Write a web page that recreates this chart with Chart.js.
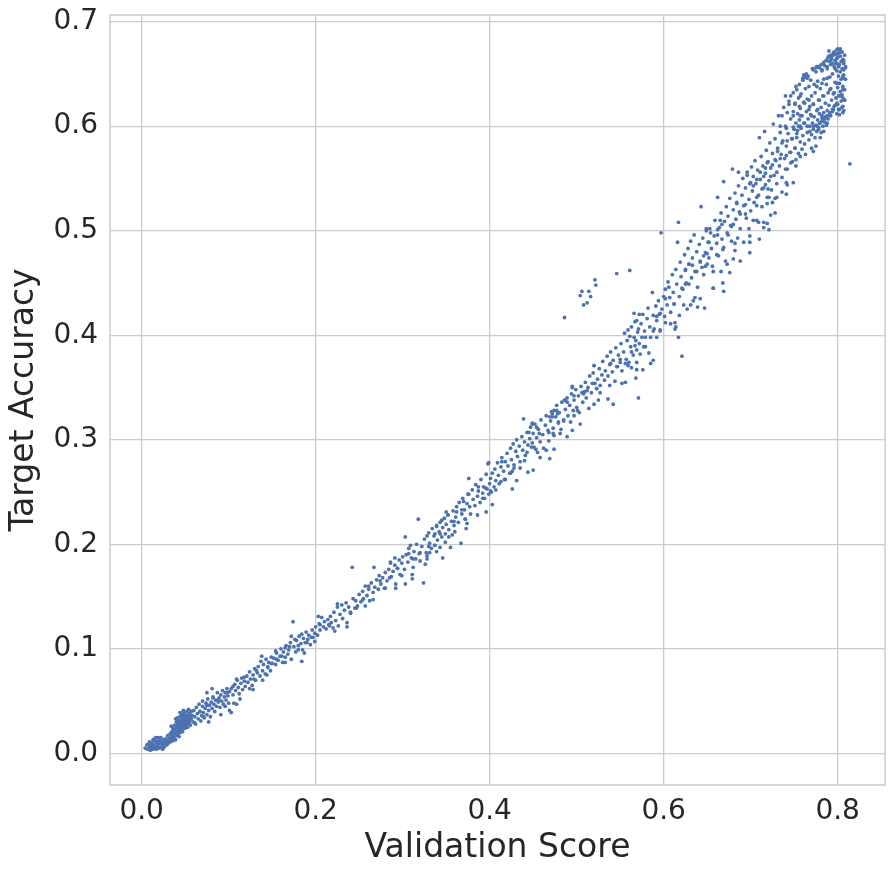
<!DOCTYPE html>
<html>
<head>
<meta charset="utf-8">
<script src="https://cdn.jsdelivr.net/npm/chart.js@4.4.1/dist/chart.umd.min.js"></script>
<style>
html,body{margin:0;padding:0;background:#fff;}
#wrap{width:895px;height:876px;}
</style>
</head>
<body>
<div id="wrap"><canvas id="c" width="895" height="876"></canvas></div>
<script>
// ---- Data: [validation score, target accuracy] pairs ----
const xTickValues = [0.0, 0.2, 0.4, 0.6, 0.8];
const yTickValues = [0.0, 0.1, 0.2, 0.3, 0.4, 0.5, 0.6, 0.7];
const xTitle = 'Validation Score';
const yTitle = 'Target Accuracy';

const segStart = [
[0.004,0.005],[0.006,0.008],[0.007,0.004],[0.008,0.009],[0.009,0.006],[0.010,0.003],[0.011,0.007],[0.012,0.010],[0.012,0.005],[0.013,0.004],
[0.014,0.008],[0.015,0.012],[0.015,0.006],[0.016,0.015],[0.017,0.010],[0.017,0.004],[0.018,0.007],[0.019,0.015],[0.020,0.009],[0.020,0.005],
[0.021,0.012],[0.022,0.006],[0.022,0.015],[0.023,0.010],[0.024,0.008],[0.025,0.013],[0.026,0.006],[0.026,0.011],[0.027,0.009],[0.028,0.014],
[0.029,0.008],[0.030,0.012],[0.030,0.017],[0.031,0.010],[0.032,0.014],[0.033,0.019],[0.033,0.011],[0.034,0.016],[0.035,0.013],[0.035,0.021],
[0.013,0.013],[0.009,0.011],[0.018,0.012],[0.024,0.004],[0.028,0.011]
];
const segCluster = [
[0.036,0.018],[0.036,0.024],[0.037,0.015],[0.037,0.021],[0.038,0.027],[0.038,0.019],[0.039,0.013],[0.039,0.023],[0.040,0.030],[0.040,0.017],
[0.040,0.025],[0.041,0.021],[0.041,0.028],[0.041,0.034],[0.042,0.019],[0.042,0.024],[0.042,0.031],[0.043,0.016],[0.043,0.027],[0.043,0.022],
[0.044,0.029],[0.044,0.035],[0.044,0.025],[0.045,0.020],[0.045,0.032],[0.045,0.027],[0.046,0.023],[0.046,0.030],[0.046,0.037],[0.047,0.026],
[0.047,0.033],[0.047,0.021],[0.048,0.029],[0.048,0.035],[0.048,0.025],[0.049,0.031],[0.049,0.027],[0.049,0.038],[0.050,0.024],[0.050,0.033],
[0.050,0.029],[0.051,0.036],[0.051,0.030],[0.051,0.026],[0.052,0.034],[0.052,0.028],[0.052,0.040],[0.053,0.031],[0.053,0.036],[0.054,0.029],
[0.054,0.033],[0.055,0.038],[0.055,0.031],[0.056,0.035],[0.056,0.027],[0.057,0.033],[0.057,0.040],[0.058,0.036],[0.039,0.033],[0.044,0.039],
[0.048,0.041],[0.034,0.026],[0.036,0.012],[0.053,0.025]
];
const segLow = [
[0.059,0.030],[0.060,0.041],[0.061,0.035],[0.062,0.028],[0.063,0.044],[0.064,0.038],[0.065,0.033],[0.066,0.047],[0.067,0.040],[0.068,0.031],
[0.069,0.036],[0.070,0.045],[0.070,0.050],[0.071,0.039],[0.072,0.034],[0.073,0.043],[0.074,0.048],[0.075,0.037],[0.076,0.052],[0.077,0.041],
[0.078,0.046],[0.079,0.035],[0.080,0.049],[0.081,0.043],[0.082,0.054],[0.083,0.047],[0.084,0.040],[0.085,0.051],[0.086,0.045],[0.087,0.058],
[0.088,0.049],[0.089,0.053],[0.090,0.044],[0.091,0.056],[0.092,0.050],[0.093,0.060],[0.094,0.047],[0.095,0.054],[0.096,0.058],[0.097,0.051],
[0.098,0.062],[0.099,0.055],[0.100,0.048],[0.101,0.059],[0.075,0.058],[0.101,0.041],[0.106,0.048],[0.081,0.062],[0.103,0.039],[0.109,0.047],
[0.103,0.062],[0.105,0.056],[0.107,0.066],[0.108,0.060],[0.110,0.070],[0.111,0.063],[0.112,0.057],[0.114,0.067],[0.115,0.072],[0.116,0.061],
[0.118,0.069],[0.119,0.064],[0.121,0.074],[0.122,0.068],[0.124,0.078],[0.125,0.071],[0.127,0.065],[0.128,0.075],[0.130,0.081],[0.131,0.070],
[0.133,0.077],[0.134,0.083],[0.136,0.074],[0.137,0.088],[0.139,0.079],[0.140,0.085],[0.142,0.076],[0.143,0.090],[0.145,0.082],[0.146,0.087],
[0.148,0.079],[0.149,0.092],[0.150,0.086],[0.113,0.052],[0.138,0.093]
];
const segLowExtra = [
[0.048,0.040],[0.054,0.042],[0.061,0.029],[0.067,0.040],[0.071,0.035],[0.077,0.030],[0.075,0.046],[0.082,0.053],[0.088,0.051],[0.091,0.037],
[0.096,0.045],[0.098,0.058],[0.105,0.064],[0.109,0.071],[0.118,0.073],[0.124,0.062],[0.128,0.061],[0.129,0.071],[0.132,0.079],[0.139,0.070],
[0.144,0.075],[0.145,0.083],[0.149,0.086],[0.155,0.090],[0.154,0.098],[0.161,0.093],[0.165,0.087],[0.165,0.101],[0.170,0.102],[0.172,0.112],
[0.176,0.109],[0.180,0.099],[0.184,0.088],[0.187,0.096],[0.190,0.106],[0.195,0.111],[0.199,0.107],[0.203,0.131],[0.205,0.123],[0.216,0.122],
[0.222,0.117],[0.225,0.143],[0.236,0.125],[0.240,0.135],[0.247,0.139],[0.254,0.147],[0.257,0.141],[0.261,0.160],[0.266,0.147],[0.274,0.165],
[0.280,0.158],[0.285,0.168],[0.292,0.158]
];
const segLowMid = [
[0.152,0.091],[0.154,0.085],[0.155,0.096],[0.157,0.089],[0.159,0.093],[0.160,0.100],[0.162,0.087],[0.163,0.097],[0.165,0.092],[0.166,0.103],
[0.168,0.095],[0.169,0.099],[0.171,0.106],[0.172,0.090],[0.174,0.126],[0.175,0.102],[0.177,0.097],[0.178,0.108],[0.180,0.103],[0.181,0.112],
[0.183,0.105],[0.185,0.099],[0.186,0.110],[0.188,0.106],[0.189,0.116],[0.191,0.109],[0.192,0.113],[0.194,0.104],[0.196,0.118],[0.197,0.111],
[0.199,0.115],[0.200,0.121],[0.184,0.114],
[0.202,0.113],[0.204,0.124],[0.205,0.118],[0.207,0.130],[0.209,0.121],[0.210,0.126],[0.212,0.119],[0.214,0.128],[0.215,0.123],[0.217,0.131],
[0.218,0.125],[0.220,0.120],[0.221,0.135],[0.223,0.127],[0.225,0.140],[0.226,0.122],[0.228,0.133],[0.230,0.142],[0.231,0.129],[0.233,0.137],
[0.235,0.144],[0.236,0.121],[0.238,0.140],[0.240,0.134],[0.242,0.178],[0.243,0.148],[0.245,0.139],[0.246,0.146],[0.248,0.141],[0.250,0.152],
[0.252,0.145],[0.254,0.155],[0.255,0.148],[0.257,0.160],[0.259,0.151],[0.261,0.157],[0.262,0.146],[0.264,0.163],[0.266,0.154],[0.267,0.178],
[0.268,0.159],[0.270,0.166],[0.272,0.157],[0.273,0.170],[0.275,0.162],[0.277,0.168],[0.279,0.158],[0.280,0.173],[0.282,0.165],[0.284,0.176],
[0.286,0.183],[0.287,0.169],[0.289,0.174],[0.291,0.180],[0.292,0.162],[0.294,0.177],[0.296,0.185],[0.297,0.171],[0.299,0.182],[0.300,0.188]
];
const segMid = [
[0.302,0.176],[0.303,0.207],[0.304,0.190],[0.306,0.183],[0.307,0.196],[0.309,0.199],[0.310,0.187],[0.312,0.178],[0.313,0.193],[0.315,0.186],
[0.316,0.200],[0.318,0.224],[0.319,0.191],[0.320,0.184],[0.322,0.198],[0.324,0.163],[0.325,0.205],[0.327,0.192],[0.328,0.189],[0.330,0.211],
[0.331,0.201],[0.333,0.196],[0.334,0.215],[0.336,0.208],[0.337,0.199],[0.339,0.218],[0.340,0.204],[0.342,0.212],[0.343,0.221],[0.345,0.207],
[0.346,0.216],[0.348,0.225],[0.349,0.210],[0.350,0.219],[0.311,0.171],[0.326,0.181],
[0.352,0.228],[0.353,0.214],[0.355,0.197],[0.356,0.222],[0.358,0.232],[0.359,0.218],[0.361,0.226],[0.362,0.236],[0.364,0.221],[0.365,0.240],
[0.367,0.201],[0.368,0.229],[0.369,0.244],[0.371,0.233],[0.372,0.224],[0.374,0.239],[0.375,0.248],[0.377,0.236],[0.378,0.229],[0.380,0.252],
[0.381,0.243],[0.383,0.237],[0.384,0.257],[0.386,0.246],[0.387,0.251],[0.389,0.240],[0.390,0.262],[0.392,0.249],[0.393,0.255],[0.394,0.244],
[0.396,0.267],[0.397,0.253],[0.398,0.277],[0.399,0.248],[0.400,0.258],[0.357,0.209],[0.373,0.215],
[0.401,0.263],[0.402,0.250],[0.403,0.268],[0.405,0.255],[0.406,0.272],[0.407,0.261],[0.409,0.278],[0.410,0.266],[0.411,0.258],[0.413,0.274],
[0.414,0.283],[0.416,0.270],[0.417,0.262],[0.418,0.279],[0.420,0.287],[0.421,0.275],[0.423,0.268],[0.424,0.292],[0.425,0.281],[0.427,0.296],
[0.428,0.276],[0.430,0.289],[0.431,0.300],[0.432,0.284],[0.434,0.294],[0.435,0.279],[0.437,0.303],[0.438,0.290],[0.440,0.298],[0.441,0.285],
[0.443,0.307],[0.444,0.295],[0.446,0.301],[0.447,0.312],[0.449,0.297],[0.450,0.306],[0.439,0.320],[0.426,0.270],
[0.451,0.293],[0.452,0.315],[0.454,0.302],[0.455,0.288],[0.456,0.310],[0.458,0.298],[0.459,0.319],[0.461,0.305],[0.462,0.292],[0.464,0.314],
[0.465,0.323],[0.467,0.309],[0.468,0.299],[0.470,0.318],[0.471,0.327],[0.473,0.311],[0.474,0.304],[0.476,0.322],[0.477,0.333],[0.479,0.316],
[0.480,0.326],[0.482,0.310],[0.483,0.336],[0.485,0.319],[0.486,0.417],[0.487,0.329],[0.489,0.340],[0.490,0.323],[0.492,0.333],[0.493,0.317],
[0.494,0.344],[0.496,0.328],[0.497,0.338],[0.499,0.348],[0.500,0.331]
];
const segMidExtra = [
[0.286,0.182],[0.291,0.187],[0.294,0.177],[0.299,0.170],[0.303,0.162],[0.311,0.167],[0.307,0.191],[0.312,0.186],[0.320,0.192],[0.328,0.186],
[0.331,0.192],[0.328,0.208],[0.337,0.210],[0.343,0.210],[0.339,0.217],[0.345,0.223],[0.350,0.231],[0.352,0.228],[0.359,0.222],[0.362,0.231],
[0.368,0.233],[0.370,0.241],[0.376,0.248],[0.376,0.263],[0.372,0.224],[0.374,0.220],[0.360,0.212],[0.353,0.207],[0.349,0.202],[0.343,0.197],
[0.337,0.199],[0.330,0.198],[0.346,0.187],[0.339,0.193],[0.387,0.255],[0.392,0.244],[0.395,0.254],[0.401,0.251],[0.403,0.238],[0.386,0.228],
[0.396,0.231],[0.407,0.252],[0.413,0.260],[0.414,0.279],[0.399,0.278],[0.418,0.262],[0.424,0.268],[0.428,0.273],[0.431,0.261],[0.426,0.253],
[0.435,0.273],[0.440,0.280],[0.444,0.269],[0.450,0.271],[0.443,0.288],[0.448,0.293],[0.453,0.291],[0.458,0.283],[0.465,0.290],[0.469,0.282],
[0.474,0.291],[0.449,0.315],[0.454,0.312],[0.445,0.307],[0.457,0.306],[0.468,0.307],[0.473,0.306],[0.481,0.306],[0.472,0.322],[0.479,0.317],
[0.485,0.318],[0.489,0.303],[0.495,0.309],[0.504,0.315],[0.497,0.323],[0.501,0.328],[0.508,0.344],[0.514,0.330],[0.520,0.334],[0.525,0.338],
[0.489,0.336],[0.495,0.350],[0.497,0.342],[0.487,0.338],[0.474,0.328],[0.478,0.325],[0.469,0.322],[0.449,0.316],[0.472,0.325],[0.477,0.328],
[0.495,0.351],[0.486,0.338],[0.506,0.345],[0.512,0.347],[0.521,0.354],[0.523,0.349],[0.527,0.345],[0.538,0.352],[0.542,0.334],[0.536,0.339]
];
const segUpperMid = [
[0.502,0.342],[0.503,0.326],[0.504,0.438],[0.505,0.351],[0.506,0.442],[0.507,0.336],[0.508,0.429],[0.509,0.346],[0.510,0.355],[0.511,0.340],
[0.512,0.431],[0.513,0.350],[0.514,0.442],[0.515,0.361],[0.516,0.437],[0.517,0.345],[0.518,0.354],[0.519,0.364],[0.520,0.371],[0.521,0.453],
[0.522,0.448],[0.523,0.349],[0.524,0.358],[0.526,0.368],[0.527,0.352],[0.529,0.362],[0.530,0.375],[0.532,0.357],[0.533,0.366],[0.535,0.380],
[0.536,0.361],[0.538,0.372],[0.539,0.384],[0.541,0.365],[0.542,0.376],[0.544,0.356],[0.545,0.388],[0.546,0.459],[0.547,0.370],[0.548,0.381],
[0.550,0.374],
[0.551,0.392],[0.552,0.366],[0.554,0.384],[0.555,0.402],[0.557,0.377],[0.558,0.395],[0.559,0.371],[0.561,0.462],[0.562,0.389],[0.563,0.408],
[0.565,0.381],[0.566,0.398],[0.567,0.413],[0.569,0.386],[0.570,0.403],[0.571,0.340],[0.572,0.392],[0.574,0.411],[0.575,0.398],[0.576,0.420],
[0.578,0.404],[0.579,0.389],[0.581,0.416],[0.582,0.426],[0.584,0.408],[0.585,0.398],[0.587,0.441],[0.588,0.419],[0.589,0.406],[0.591,0.428],
[0.592,0.414],[0.594,0.433],[0.595,0.420],[0.596,0.404],[0.597,0.498],[0.598,0.425],[0.600,0.437],[0.569,0.374],[0.583,0.383],
[0.601,0.418],[0.602,0.444],[0.604,0.429],[0.605,0.451],[0.607,0.436],[0.608,0.422],[0.610,0.458],[0.611,0.441],[0.612,0.430],[0.614,0.463],
[0.615,0.449],[0.616,0.489],[0.617,0.508],[0.618,0.437],[0.619,0.470],[0.620,0.456],[0.621,0.380],[0.622,0.444],[0.624,0.477],[0.625,0.462],
[0.626,0.450],[0.628,0.483],[0.629,0.468],[0.631,0.490],[0.632,0.455],[0.633,0.474],[0.635,0.496],[0.636,0.461],[0.638,0.480],[0.639,0.446],
[0.641,0.487],[0.642,0.471],[0.643,0.523],[0.645,0.493],[0.646,0.458],[0.648,0.479],[0.649,0.500],[0.650,0.468],[0.613,0.412],[0.634,0.433]
];
const segUpperExtra = [
[0.520,0.371],[0.539,0.373],[0.546,0.370],[0.556,0.373],[0.550,0.377],[0.560,0.374],[0.563,0.369],[0.569,0.367],[0.576,0.367],[0.585,0.373],
[0.588,0.376],[0.556,0.355],[0.552,0.354],[0.568,0.359],[0.577,0.389],[0.567,0.390],[0.563,0.384],[0.573,0.382],[0.572,0.420],[0.569,0.414],
[0.566,0.421],[0.571,0.406],[0.559,0.405],[0.561,0.399],[0.568,0.395],[0.579,0.398],[0.588,0.404],[0.592,0.398],[0.596,0.405],[0.592,0.418],
[0.596,0.421],[0.602,0.412],[0.602,0.435],[0.608,0.411],[0.613,0.406],[0.617,0.398],[0.614,0.408],[0.618,0.419],[0.625,0.449],[0.629,0.449],
[0.621,0.445],[0.606,0.446],[0.612,0.430],[0.623,0.429],[0.627,0.425],[0.636,0.436],[0.642,0.435],[0.647,0.426],[0.639,0.427],[0.631,0.429],
[0.625,0.463],[0.629,0.468],[0.633,0.467],[0.638,0.461],[0.642,0.470],[0.644,0.465],[0.648,0.466],[0.657,0.461],[0.666,0.461],[0.676,0.460],
[0.657,0.445],[0.668,0.450],[0.669,0.442],[0.673,0.468],[0.680,0.473],[0.688,0.471],[0.682,0.481],[0.669,0.484],[0.661,0.477],[0.650,0.478],
[0.646,0.476],[0.652,0.489],[0.662,0.496],[0.674,0.496],[0.682,0.488],[0.692,0.489],[0.699,0.489],[0.699,0.495],[0.699,0.479],[0.710,0.492],
[0.698,0.502],[0.680,0.506],[0.678,0.504],[0.688,0.516],[0.694,0.516],[0.703,0.510],[0.709,0.508],[0.715,0.503],[0.721,0.501],[0.719,0.507],
[0.723,0.515],[0.728,0.517],[0.719,0.526],[0.725,0.527],[0.707,0.524],[0.694,0.525],[0.684,0.526],[0.665,0.510],[0.667,0.506],[0.654,0.498],
[0.649,0.502],[0.662,0.501]
];
const segHighMid = [
[0.651,0.489],[0.652,0.474],[0.653,0.502],[0.655,0.483],[0.656,0.466],[0.658,0.495],[0.659,0.510],[0.661,0.488],[0.662,0.532],[0.663,0.476],
[0.664,0.503],[0.666,0.517],[0.667,0.492],[0.668,0.482],[0.669,0.547],[0.670,0.509],[0.672,0.523],[0.673,0.498],[0.674,0.514],[0.676,0.531],
[0.677,0.505],[0.678,0.490],[0.679,0.559],[0.680,0.520],[0.682,0.536],[0.683,0.511],[0.684,0.527],[0.686,0.543],[0.687,0.518],[0.688,0.502],
[0.690,0.534],[0.691,0.550],[0.692,0.524],[0.694,0.541],[0.695,0.512],[0.696,0.556],[0.698,0.530],[0.699,0.545],[0.700,0.519],[0.657,0.445],
[0.671,0.471],[0.685,0.493],
[0.701,0.561],[0.702,0.538],[0.703,0.552],[0.704,0.527],[0.705,0.567],[0.706,0.545],[0.707,0.510],[0.708,0.558],[0.709,0.534],[0.710,0.589],
[0.711,0.549],[0.712,0.571],[0.713,0.523],[0.714,0.562],[0.715,0.541],[0.716,0.595],[0.717,0.555],[0.718,0.577],[0.719,0.532],[0.720,0.566],
[0.721,0.548],[0.722,0.584],[0.723,0.560],[0.724,0.539],[0.725,0.574],[0.726,0.602],[0.727,0.553],[0.728,0.588],[0.729,0.567],[0.730,0.545],
[0.731,0.579],[0.732,0.610],[0.733,0.562],[0.734,0.594],[0.735,0.573],[0.736,0.551],[0.737,0.586],[0.738,0.618],[0.739,0.569],[0.740,0.600],
[0.741,0.581],[0.742,0.559],[0.743,0.593],[0.744,0.624],[0.745,0.575],[0.746,0.607],[0.747,0.588],[0.748,0.566],[0.749,0.614],[0.750,0.597],
[0.728,0.531],[0.742,0.544],[0.715,0.508]
];
const segHighExtra = [
[0.686,0.556],[0.696,0.553],[0.700,0.546],[0.703,0.543],[0.707,0.549],[0.711,0.556],[0.715,0.552],[0.717,0.544],[0.720,0.540],[0.713,0.540],
[0.707,0.532],[0.721,0.532],[0.730,0.532],[0.736,0.537],[0.741,0.535],[0.719,0.565],[0.725,0.563],[0.728,0.568],[0.734,0.569],[0.741,0.572],
[0.749,0.546],[0.731,0.576],[0.736,0.584],[0.742,0.586],[0.748,0.588],[0.753,0.593],[0.755,0.600],[0.749,0.610],[0.742,0.613],[0.736,0.610],
[0.734,0.600],[0.741,0.598],[0.744,0.621],[0.746,0.629],[0.749,0.632],[0.740,0.629],[0.752,0.638],[0.757,0.629],[0.762,0.622],[0.767,0.616],
[0.770,0.610],[0.772,0.600],[0.768,0.595],[0.770,0.579],[0.772,0.576],[0.775,0.581],[0.780,0.589],[0.784,0.595],[0.788,0.603],[0.792,0.610],
[0.795,0.616],[0.799,0.622],[0.803,0.629],[0.806,0.635],[0.802,0.641],[0.806,0.648],[0.807,0.654],[0.799,0.660],[0.792,0.663],[0.788,0.657],
[0.782,0.654],[0.776,0.657],[0.788,0.646],[0.782,0.641],[0.776,0.638],[0.791,0.635],[0.796,0.632],[0.799,0.641],[0.762,0.648],[0.765,0.646],
[0.760,0.644],[0.795,0.670],[0.803,0.671],[0.799,0.665],[0.790,0.667],[0.787,0.663],[0.807,0.663],[0.809,0.657],[0.808,0.625],[0.806,0.619],
[0.801,0.616],[0.806,0.613],[0.778,0.597],[0.782,0.610],[0.777,0.616],[0.779,0.625],[0.784,0.629],[0.772,0.621],[0.767,0.625],[0.756,0.619],
[0.751,0.621],[0.757,0.610],[0.761,0.603],[0.765,0.600],[0.757,0.600],[0.749,0.599],[0.751,0.579],[0.757,0.571],[0.763,0.573],[0.746,0.575],
[0.752,0.562],[0.746,0.565],[0.740,0.559],[0.730,0.556],[0.723,0.552],[0.717,0.560],[0.741,0.546]
];
const segTop = [
[0.751,0.579],[0.751,0.622],[0.752,0.603],[0.752,0.568],[0.753,0.635],[0.753,0.589],[0.754,0.612],[0.754,0.596],[0.755,0.627],[0.755,0.574],
[0.756,0.606],[0.756,0.640],[0.757,0.585],[0.757,0.617],[0.758,0.598],[0.758,0.631],[0.759,0.578],[0.759,0.610],[0.760,0.646],[0.760,0.591],
[0.761,0.623],[0.761,0.649],[0.762,0.603],[0.762,0.583],[0.763,0.647],[0.763,0.636],[0.764,0.614],[0.764,0.650],[0.765,0.594],[0.765,0.626],
[0.766,0.648],[0.766,0.607],[0.767,0.587],[0.767,0.638],[0.768,0.619],[0.768,0.600],[0.769,0.644],[0.769,0.611],[0.770,0.592],[0.770,0.629],
[0.771,0.603],[0.771,0.655],[0.772,0.621],[0.772,0.597],[0.773,0.640],[0.773,0.609],[0.774,0.589],[0.774,0.632],[0.775,0.601],[0.775,0.652],
[0.776,0.615],[0.776,0.595],[0.777,0.643],[0.777,0.606],[0.778,0.625],[0.778,0.599],[0.779,0.656],[0.779,0.612],[0.780,0.603],[0.780,0.636],
[0.781,0.594],[0.781,0.618],[0.782,0.653],[0.782,0.608],[0.783,0.629],[0.783,0.600],[0.784,0.645],[0.784,0.613],[0.785,0.604],[0.785,0.658],
[0.786,0.622],[0.786,0.609],[0.787,0.640],[0.787,0.601],[0.788,0.655],[0.788,0.615],[0.789,0.632],[0.789,0.607],[0.790,0.662],[0.790,0.620],
[0.791,0.647],[0.791,0.611],[0.792,0.636],[0.792,0.659],[0.793,0.625],[0.793,0.665],[0.794,0.614],[0.794,0.650],[0.795,0.631],[0.795,0.668],
[0.796,0.619],[0.796,0.657],[0.797,0.642],[0.797,0.663],[0.798,0.627],[0.798,0.669],[0.799,0.612],[0.799,0.653],[0.800,0.637],[0.800,0.666],
[0.800,0.621],[0.801,0.648],[0.801,0.670],[0.801,0.629],[0.802,0.659],[0.802,0.616],[0.802,0.641],[0.803,0.667],[0.803,0.633],[0.803,0.652],
[0.804,0.624],[0.804,0.662],[0.804,0.645],[0.805,0.671],[0.805,0.618],[0.805,0.655],[0.806,0.638],[0.806,0.664],[0.806,0.627],[0.807,0.649],
[0.807,0.660],[0.808,0.635],[0.808,0.668],[0.809,0.645],[0.809,0.656],[0.799,0.673],[0.796,0.671],[0.792,0.668],[0.789,0.666],[0.787,0.663],
[0.784,0.661],[0.781,0.659],[0.778,0.657],[0.775,0.656],[0.772,0.654],[0.790,0.672],[0.794,0.660],[0.797,0.655],[0.803,0.674],[0.800,0.674],
[0.798,0.660],[0.805,0.630],[0.808,0.625],[0.807,0.615],[0.802,0.611],[0.806,0.646],[0.801,0.657],
[0.776,0.600],[0.779,0.603],[0.782,0.605],[0.785,0.607],[0.788,0.610],[0.791,0.613],[0.794,0.616],[0.797,0.620]
];
const outliers = [[0.814,0.564]];

// ---- Build chart ----
const allPairs = [].concat(segStart, segCluster, segLow, segLowExtra, segLowMid, segMid, segMidExtra,
  segUpperMid, segUpperExtra, segHighMid, segHighExtra, segTop, outliers);
const points = allPairs.map(p => ({x: p[0], y: p[1]}));

const FONT = "'DejaVu Sans', sans-serif";
const TEXT = '#262626';
const GRID = '#cccccc';

const framePlugin = {
  id: 'frame',
  beforeDatasetsDraw(chart) {
    const {ctx, chartArea: a} = chart;
    ctx.save();
    ctx.strokeStyle = GRID;
    ctx.lineWidth = 1.5;
    ctx.strokeRect(a.left, a.top, a.right - a.left, a.bottom - a.top);
    ctx.restore();
  }
};

new Chart(document.getElementById('c'), {
  type: 'scatter',
  data: {
    datasets: [{
      data: points,
      backgroundColor: '#4c72b0',
      borderColor: '#4c72b0',
      borderWidth: 0,
      pointRadius: 1.9,
      pointHoverRadius: 1.9
    }]
  },
  options: {
    responsive: false,
    animation: false,
    devicePixelRatio: 1,
    layout: { padding: { left: 0, right: 10, top: 15, bottom: 0 } },
    plugins: { legend: { display: false }, tooltip: { enabled: false } },
    scales: {
      x: {
        type: 'linear',
        min: -0.0364,
        max: 0.8544,
        afterBuildTicks(s) { s.ticks = xTickValues.map(v => ({value: v})); },
        afterFit(s) { s.height = 91; s.paddingLeft = 0; s.paddingRight = 0; },
        grid: { color: GRID, lineWidth: 1.3, drawTicks: false },
        border: { display: false },
        ticks: {
          padding: 10,
          color: TEXT,
          font: { family: FONT, size: 28 },
          callback: v => Number(v).toFixed(1),
          maxRotation: 0
        },
        title: {
          display: true,
          text: xTitle,
          color: TEXT,
          font: { family: FONT, size: 33 },
          padding: { top: 0, bottom: 8 }
        }
      },
      y: {
        type: 'linear',
        min: -0.0303,
        max: 0.7064,
        afterBuildTicks(s) { s.ticks = yTickValues.map(v => ({value: v})); },
        afterFit(s) { s.width = 110; s.paddingTop = 0; s.paddingBottom = 0; },
        grid: { color: GRID, lineWidth: 1.3, drawTicks: false },
        border: { display: false },
        ticks: {
          padding: 12,
          color: TEXT,
          font: { family: FONT, size: 28 },
          callback: v => Number(v).toFixed(1)
        },
        title: {
          display: true,
          text: yTitle,
          color: TEXT,
          font: { family: FONT, size: 33 },
          padding: { top: 5, bottom: 0 }
        }
      }
    }
  },
  plugins: [framePlugin]
});
</script>
</body>
</html>
